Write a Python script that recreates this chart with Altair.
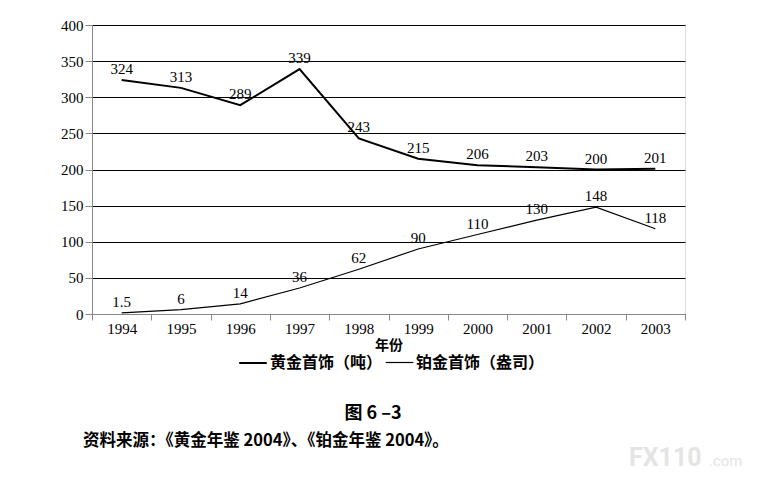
import altair as alt
import pandas as pd

years = [1994, 1995, 1996, 1997, 1998, 1999, 2000, 2001, 2002, 2003]
gold = [324, 313, 289, 339, 243, 215, 206, 203, 200, 201]
plat = [1.5, 6, 14, 36, 62, 90, 110, 130, 148, 118]
gold_label = ["324", "313", "289", "339", "243", "215", "206", "203", "200", "201"]
plat_label = ["1.5", "6", "14", "36", "62", "90", "110", "130", "148", "118"]
series_names = ["黄金首饰（吨）", "铂金首饰（盎司）"]
y_ticks = [0, 50, 100, 150, 200, 250, 300, 350, 400]

rows = []
for yr, v, lab in zip(years, gold, gold_label):
    rows.append({"year": yr, "value": v, "label": lab, "series": series_names[0]})
for yr, v, lab in zip(years, plat, plat_label):
    rows.append({"year": yr, "value": v, "label": lab, "series": series_names[1]})
df = pd.DataFrame(rows)

edges = [y - 0.5 for y in years] + [years[-1] + 0.5]

SERIF = "Liberation Serif"
CJK = "Noto Sans CJK SC"

x_scale = alt.Scale(domain=[years[0] - 0.5, years[-1] + 0.5], nice=False, zero=False)
x_axis_ticks = alt.Axis(
    orient="bottom",
    values=edges,
    labels=False,
    grid=False,
    tickSize=6,
    title=None,
)
x_axis_labels = alt.Axis(
    orient="bottom",
    values=years,
    format="d",
    ticks=False,
    domain=False,
    grid=False,
    labelOverlap=False,
    labelFlush=False,
    labelPadding=7,
    labelColor="black",
    labelFont=SERIF,
    labelFontSize=15,
    title="年份",
    titleFont=CJK,
    titleFontWeight="bold",
    titleFontSize=14,
    titlePadding=2,
)
y_scale = alt.Scale(domain=[0, 400], nice=False)
y_axis = alt.Axis(
    values=y_ticks,
    grid=True,
    gridColor="black",
    gridWidth=1,
    gridOpacity=1,
    tickSize=7,
    labelOverlap=False,
    labelFont=SERIF,
    labelFontSize=15,
    labelPadding=2,
    title=None,
)

lines = alt.Chart(df).mark_line(color="black", clip=False).encode(
    x=alt.X("year:Q", scale=x_scale, axis=x_axis_ticks),
    y=alt.Y("value:Q", scale=y_scale, axis=y_axis),
    strokeWidth=alt.StrokeWidth(
        "series:N",
        scale=alt.Scale(domain=series_names, range=[2.0, 1.2]),
        legend=alt.Legend(
            title=None,
            orient="none",
            legendX=146,
            legendY=323,
            direction="horizontal",
            gridAlign="none",
            symbolType="stroke",
            symbolSize=760,
            symbolStrokeColor="black",
            labelFont=CJK,
            labelFontWeight="bold",
            labelFontSize=16,
            labelColor="black",
            labelOffset=2,
            columnPadding=0,
        ),
    ),
    detail="series:N",
)

labels = alt.Chart(df).mark_text(
    font=SERIF, fontSize=15, color="black", baseline="bottom", dy=-3
).encode(
    x=alt.X("year:Q", scale=x_scale, axis=x_axis_labels),
    y=alt.Y("value:Q", scale=y_scale, axis=y_axis),
    text="label:N",
)

blank = alt.Data(values=[{"a": 1}])
caption = alt.Chart(blank).mark_text(
    text="图 6 –3", font=CJK, fontWeight="bold", fontSize=18, color="black", align="center", baseline="middle"
).encode(x=alt.value(281), y=alt.value(389))
source = alt.Chart(blank).mark_text(
    text="资料来源：《黄金年鉴 2004》、《铂金年鉴 2004》。", font=CJK, fontWeight="bold", fontSize=16.5,
    color="black", align="left", baseline="middle"
).encode(x=alt.value(-9), y=alt.value(416))
wm1 = alt.Chart(blank).mark_text(
    text="FX110", font="Roboto", fontWeight="bold", fontSize=25, color="#e4e4e4", align="left", baseline="middle"
).encode(x=alt.value(537), y=alt.value(433))
wm2 = alt.Chart(blank).mark_text(
    text=".com", font="Roboto", fontSize=15, color="#e4e4e4", align="left", baseline="middle"
).encode(x=alt.value(617), y=alt.value(436))

chart = alt.layer(lines, labels, caption, source, wm1, wm2).resolve_axis(x="independent").properties(
    width=593,
    height=289,
    autosize=alt.AutoSizeParams(type="none"),
    padding={"left": 84, "top": 17, "right": 62, "bottom": 160},
).configure_view(stroke="black", strokeWidth=1).configure_axis(
    domainColor="black", tickColor="black", labelColor="black", titleColor="black", domainWidth=1
).configure(background="white")

chart.save("out.html", embed_options={"renderer": "svg", "actions": False})
